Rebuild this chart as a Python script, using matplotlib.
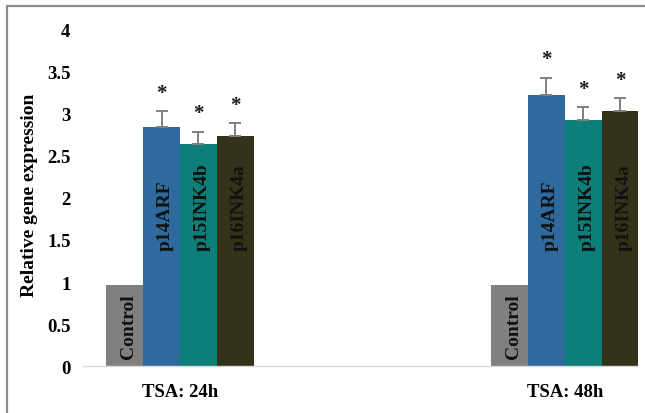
import matplotlib
matplotlib.use("Agg")
import matplotlib.pyplot as plt
from matplotlib.patches import Rectangle
import numpy as np

groups = ["TSA: 24h", "TSA: 48h"]
genes = ["Control", "p14ARF", "p15INK4b", "p16INK4a"]
expr_24h = [0.97, 2.85, 2.64, 2.74]
expr_48h = [0.97, 3.23, 2.93, 3.03]
err_24h = [0, 0.18, 0.15, 0.15]
err_48h = [0, 0.20, 0.15, 0.16]
signif = [False, True, True, True]
colors = ["#808080", "#2e6a9e", "#0d7f7a", "#333319"]

plt.rcParams["font.family"] = ["Liberation Serif", "DejaVu Serif"]
plt.rcParams["font.weight"] = "bold"

fig = plt.figure(figsize=(6.45, 4.14), dpi=100)
ax = fig.add_axes([83 / 645, 1 - 367 / 414, 555 / 645, 336 / 414])

# outer frame around the figure
fig.patches.append(Rectangle((7 / 645, -0.1), 1.2, (414 - 7) / 414 + 0.1,
                             transform=fig.transFigure, fill=False,
                             edgecolor="#8c8c8c", linewidth=1.6))

width = 0.096
offsets = (np.arange(len(genes)) - 1.5) * width
centers = np.arange(len(groups))
values = [expr_24h, expr_48h]
errors = [err_24h, err_48h]

for gi, c in enumerate(centers):
    for bi, gene in enumerate(genes):
        x = c + offsets[bi]
        v = values[gi][bi]
        e = errors[gi][bi]
        ax.bar(x, v, width=width, color=colors[bi], linewidth=0)
        if e > 0:
            ax.errorbar(x, v, yerr=[[0], [e]], fmt="none", ecolor="#7f7f7f",
                        elinewidth=1.4, capsize=4, capthick=1.4)
        if signif[bi]:
            ax.text(x, v + e + 0.1, "*", ha="center", va="bottom",
                    fontsize=15, fontweight="bold", color="#1a1a1a")
        # gene name written up the bar
        ybase = 0.1 if bi == 0 else 1.38
        ax.text(x + 0.01, ybase, gene, rotation=90, ha="center", va="bottom",
                fontsize=14, fontweight="bold", color="#111111")

ax.set_xlim(-0.252, 1.19)
ax.set_ylim(0, 4)
ax.set_yticks(np.arange(0, 4.01, 0.5))
ax.set_yticklabels(["0", "0.5", "1", "1.5", "2", "2.5", "3", "3.5", "4"],
                   fontsize=13.5, fontweight="bold")
ax.set_xticks(centers)
ax.set_xticklabels(groups, fontsize=13.5, fontweight="bold")
ax.tick_params(axis="both", length=0)
ax.tick_params(axis="y", pad=9)
ax.tick_params(axis="x", pad=12)
for s in ["left", "right", "top"]:
    ax.spines[s].set_visible(False)
ax.spines["bottom"].set_color("#d9d9d9")
ax.spines["bottom"].set_linewidth(1.0)

fig.text(30 / 645, 1 - 195.5 / 414, "Relative gene expression", rotation=90,
         ha="center", va="center", fontsize=14, fontweight="bold")

fig.savefig("out.png", dpi=100)
